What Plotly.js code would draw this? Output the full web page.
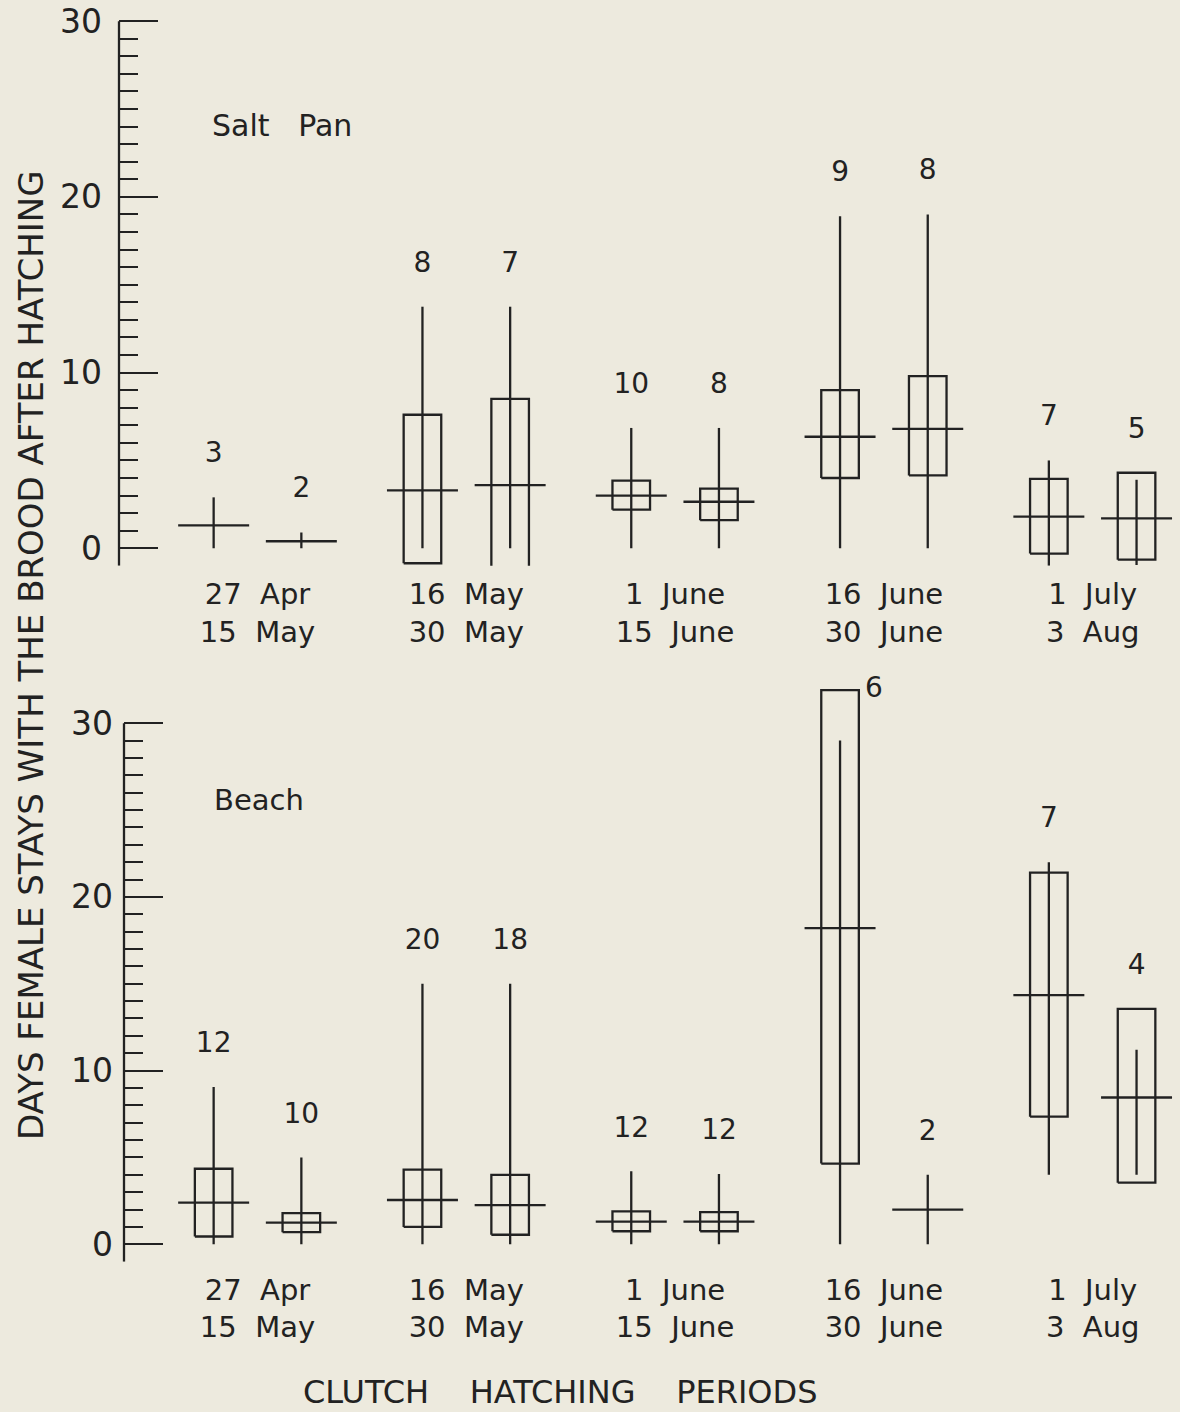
<!DOCTYPE html>
<html>
<head>
<meta charset="utf-8">
<script src="https://cdn.plot.ly/plotly-3.0.1.min.js"></script>
<style>
  html, body { margin: 0; padding: 0; background: #EDEADE; }
  #chart { width: 1180px; height: 1412px; }
</style>
</head>
<body>
<div id="chart"></div>
<script>
// ---- Data ----
// Clutch hatching periods (two-line labels)
const periodStart = ["27 Apr", "16 May", "1 June", "16 June", "1 July"];
const periodEnd   = ["15 May", "30 May", "15 June", "30 June", "3 Aug"];

// Each period has two samples (left, right); 10 entries per habitat.
// Salt Pan
const saltN        = [3, 2, 8, 7, 10, 8, 9, 8, 7, 5];
const saltMean     = [1.3, 0.4, 3.3, 3.6, 3.0, 2.65, 6.35, 6.8, 1.8, 1.7];
const saltRangeMin = [0, 0, 0, 0, 0, 0, 0, 0, -1.0, -0.95];
const saltRangeMax = [2.9, 0.9, 13.75, 13.75, 6.85, 6.85, 18.9, 19.0, 5.0, 3.9];
const saltBoxLow   = [null, null, -0.85, -1.6, 2.2, 1.6, 4.0, 4.15, -0.3, -0.65];
const saltBoxHigh  = [null, null, 7.6, 8.5, 3.85, 3.4, 9.0, 9.8, 3.95, 4.3];

// Beach
const beachN        = [12, 10, 20, 18, 12, 12, 6, 2, 7, 4];
const beachMean     = [2.4, 1.25, 2.55, 2.25, 1.3, 1.3, 18.2, 2.0, 14.35, 8.45];
const beachRangeMin = [0, 0, 0, 0, 0, 0, 0, 0, 4.0, 4.0];
const beachRangeMax = [9.05, 5.0, 15.0, 15.0, 4.2, 4.05, 29.0, 4.0, 22.0, 11.2];
const beachBoxLow   = [0.45, 0.7, 1.0, 0.55, 0.75, 0.75, 4.65, null, 7.35, 3.55];
const beachBoxHigh  = [4.35, 1.8, 4.3, 4.0, 1.9, 1.85, 31.9, null, 21.4, 13.55];

const yMajorTicks = [0, 10, 20, 30];

// ---- Styling ----
const INK = '#222222';
const BG = '#EDEADE';
const FONT = 'DejaVu Sans';
const NB = '\u00a0';
const PAIR_OFFSET = 0.21;   // left/right sample offset inside a period
const BOX_HALF = 0.09;      // half width of SD box
const MEAN_HALF = 0.17;     // half width of mean bar
const LABEL_GAP = 2.4;      // gap (in days) between top of mark and n label
const SIDE_GAP = 0.03;      // gap for a label placed beside a box
const LW = 2.3;

const spaced = s => s.replace(/ /g, NB + NB);
const tickText = periodStart.map((s, i) => spaced(s) + '<br>' + spaced(periodEnd[i]));
const minorTicks = [];
for (let v = -1; v < 30; v++) if (v % 10 !== 0) minorTicks.push(v);

function panelTraces(xa, ya, n, mean, rmin, rmax, blo, bhi, yTop) {
  const xs = n.map((_, k) => Math.floor(k / 2) + (k % 2 === 0 ? -PAIR_OFFSET : PAIR_OFFSET));
  const rX = [], rY = [], bX = [], bY = [], mX = [], mY = [];
  const tX = [], tY = [], tT = [], tP = [];
  xs.forEach((x, k) => {
    rX.push(x, x, null); rY.push(rmin[k], rmax[k], null);
    mX.push(x - MEAN_HALF, x + MEAN_HALF, null); mY.push(mean[k], mean[k], null);
    let top = rmax[k];
    if (blo[k] !== null && bhi[k] !== null) {
      bX.push(x - BOX_HALF, x + BOX_HALF, x + BOX_HALF, x - BOX_HALF, x - BOX_HALF, null);
      bY.push(blo[k], blo[k], bhi[k], bhi[k], blo[k], null);
      top = Math.max(top, bhi[k]);
    }
    const ly = top + LABEL_GAP;
    if (ly > yTop) {
      tX.push(x + BOX_HALF + SIDE_GAP); tY.push(top); tP.push('middle right');
    } else {
      tX.push(x); tY.push(ly); tP.push('middle center');
    }
    tT.push(String(n[k]));
  });
  const line = { color: INK, width: LW };
  return [
    { type: 'scatter', mode: 'lines', x: rX, y: rY, xaxis: xa, yaxis: ya, line: line, hoverinfo: 'skip' },
    { type: 'scatter', mode: 'lines', x: bX, y: bY, xaxis: xa, yaxis: ya, line: line, hoverinfo: 'skip' },
    { type: 'scatter', mode: 'lines', x: mX, y: mY, xaxis: xa, yaxis: ya, line: line, hoverinfo: 'skip' },
    { type: 'scatter', mode: 'text', x: tX, y: tY, text: tT, textposition: tP, xaxis: xa, yaxis: ya,
      textfont: { family: FONT, size: 28, color: INK }, cliponaxis: false, hoverinfo: 'skip' }
  ];
}

const traces = [].concat(
  panelTraces('x', 'y', saltN, saltMean, saltRangeMin, saltRangeMax, saltBoxLow, saltBoxHigh, 30.5),
  panelTraces('x2', 'y2', beachN, beachMean, beachRangeMin, beachRangeMax, beachBoxLow, beachBoxHigh, 30.5)
);

const W = 1180, H = 1412;
function xAxis(leftPx, anchor) {
  const unit = 208.8, c0 = 257.5;
  return {
    domain: [leftPx / W, 1],
    range: [(leftPx - c0) / unit, (W - c0) / unit],
    anchor: anchor,
    showline: false, zeroline: false, showgrid: false, ticks: '',
    tickmode: 'array', tickvals: [0, 1, 2, 3, 4], ticktext: tickText,
    tickfont: { family: FONT, size: 29, color: INK },
    ticklabelstandoff: 8,
    fixedrange: true
  };
}
function yAxis(zeroPx, pxPerUnit, top, anchor, standoff) {
  const bottomPx = zeroPx + pxPerUnit;       // value -1
  const topPx = zeroPx - top * pxPerUnit;
  return {
    domain: [1 - bottomPx / H, 1 - topPx / H],
    range: [-1, top],
    anchor: anchor,
    showline: false, zeroline: false, showgrid: false,
    tickmode: 'array', tickvals: yMajorTicks,
    ticks: 'inside', ticklen: 39, tickwidth: 2, tickcolor: INK,
    minor: { tickmode: 'array', tickvals: minorTicks, ticks: 'inside', ticklen: 19, tickwidth: 2, tickcolor: INK, showgrid: false },
    tickfont: { family: FONT, size: 33, color: INK },
    ticklabelstandoff: standoff,
    fixedrange: true
  };
}

const SP4 = NB + NB + NB + NB;
const layout = {
  width: W, height: H,
  margin: { l: 0, r: 0, t: 0, b: 0, pad: 0 },
  paper_bgcolor: BG, plot_bgcolor: BG,
  showlegend: false,
  font: { family: FONT, color: INK },
  xaxis: xAxis(119, 'y'),
  yaxis: yAxis(548.3, 17.57, 31, 'x', 16),
  xaxis2: xAxis(124, 'y2'),
  yaxis2: yAxis(1244.3, 17.37, 33, 'x2', 10),
  shapes: [
    { type: 'line', xref: 'x domain', yref: 'y', x0: 0, x1: 0, y0: -1, y1: 30, line: { color: INK, width: LW } },
    { type: 'line', xref: 'x2 domain', yref: 'y2', x0: 0, x1: 0, y0: -1, y1: 30, line: { color: INK, width: LW } }
  ],
  annotations: [
    { text: 'Salt' + NB + NB + NB + 'Pan', xref: 'paper', yref: 'paper', x: 210 / W, y: 1 - 125 / H,
      xanchor: 'left', yanchor: 'middle', showarrow: false, font: { family: FONT, size: 30, color: INK } },
    { text: 'Beach', xref: 'paper', yref: 'paper', x: 212 / W, y: 1 - 800 / H,
      xanchor: 'left', yanchor: 'middle', showarrow: false, font: { family: FONT, size: 29, color: INK } },
    { text: 'DAYS FEMALE STAYS WITH THE BROOD AFTER HATCHING', xref: 'paper', yref: 'paper',
      x: 31 / W, y: 1 - 655 / H, xanchor: 'center', yanchor: 'middle', textangle: -90, showarrow: false,
      font: { family: FONT, size: 34, color: INK } },
    { text: 'CLUTCH' + SP4 + 'HATCHING' + SP4 + 'PERIODS', xref: 'paper', yref: 'paper',
      x: 560 / W, y: 1 - 1392 / H, xanchor: 'center', yanchor: 'middle', showarrow: false,
      font: { family: FONT, size: 32, color: INK } }
  ]
};

Plotly.newPlot('chart', traces, layout, { staticPlot: true, displayModeBar: false });
</script>
</body>
</html>
